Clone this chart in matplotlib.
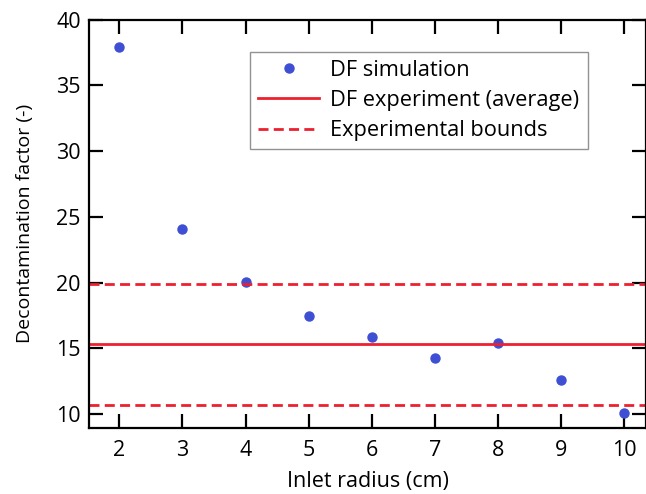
import matplotlib
matplotlib.use("Agg")
import matplotlib.pyplot as plt

plt.rcParams['font.family'] = ['Open Sans', 'DejaVu Sans']

radius = [2, 3, 4, 5, 6, 7, 8, 9, 10]
df_sim = [37.95, 24.05, 20.05, 17.45, 15.85, 14.25, 15.4, 12.55, 10.05]
df_avg = 15.3
df_low = 10.68
df_high = 19.88

fig = plt.figure(figsize=(6.46, 4.94), dpi=100)
ax = fig.add_axes([0.138, 0.134, 0.862, 0.826])

ax.plot(radius, df_sim, 'o', color='#3f4fd4', markersize=6.5, label='DF simulation')
ax.axhline(df_avg, color='#ee2030', lw=2, label='DF experiment (average)')
ax.axhline(df_high, color='#ee2030', lw=2, dashes=(3.6, 1.9), label='Experimental bounds')
ax.axhline(df_low, color='#ee2030', lw=2, dashes=(3.6, 1.9))

ax.set_xlim(1.52, 10.35)
ax.set_ylim(8.95, 40)
ax.set_xticks(radius)
ax.set_yticks([10, 15, 20, 25, 30, 35, 40])

for s in ax.spines.values():
    s.set_linewidth(1.6)
ax.tick_params(direction='in', length=10, width=1.6, labelsize=15.5,
               top=True, right=True, pad=6)
ax.tick_params(axis='x', pad=9)

ax.set_xlabel('Inlet radius (cm)', fontsize=15.5, labelpad=7)
ax.set_ylabel('Decontamination factor (-)', fontsize=14, labelpad=16)

leg = ax.legend(loc='upper left', bbox_to_anchor=(0.289, 0.922), fontsize=15.7,
                frameon=True, fancybox=False, edgecolor='#777777',
                handlelength=2.8, handletextpad=0.5, borderpad=0.38,
                labelspacing=0.42, borderaxespad=0)
leg.get_frame().set_linewidth(1.0)

fig.savefig('out.png', dpi=100)
